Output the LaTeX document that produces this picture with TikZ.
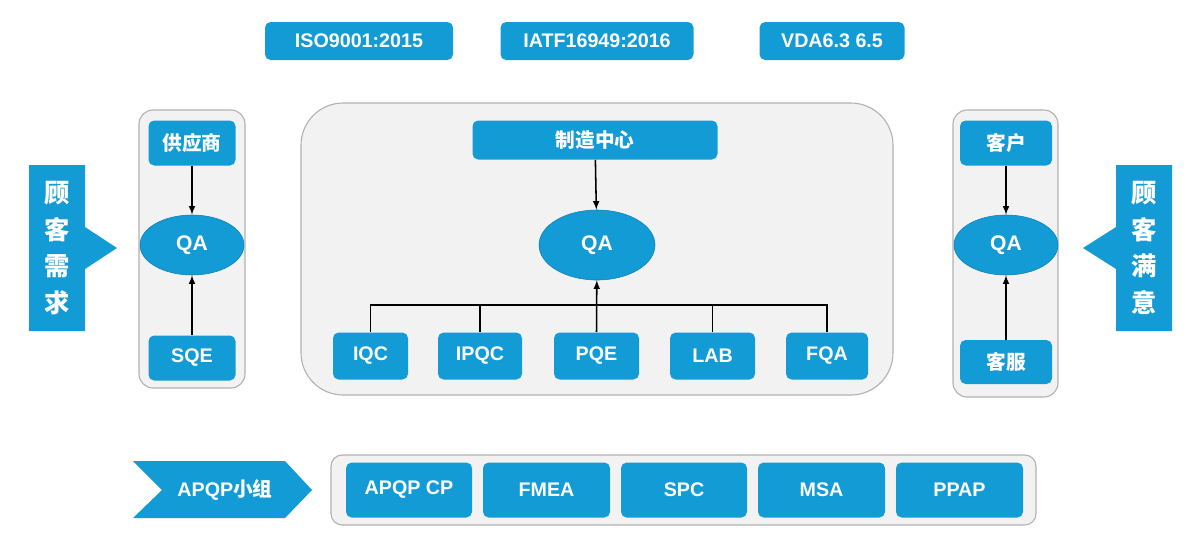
\documentclass[tikz,border=0pt]{standalone}
\usepackage{fontspec}
\setmainfont{Liberation Sans}
\newfontfamily\cjk{Noto Sans CJK SC}
\begin{document}
\begin{tikzpicture}[x=0.025cm,y=-0.025cm,
 bl/.style={fill=blue1,draw=none,rounded corners=4pt,text=white,font=\bfseries\fontsize{14}{16}\selectfont,inner sep=0pt},
 cj/.style={font=\bfseries\fontsize{14}{16}\selectfont\cjk},
 pan/.style={fill=gray!10,draw=gray!60,line width=0.8pt},
 qa/.style={ellipse,fill=blue1,draw=blue2,text=white,font=\bfseries\fontsize{15}{17}\selectfont,inner sep=0pt},
 ar/.style={-latex,line width=1.1pt}]
\definecolor{blue1}{HTML}{139BD6}
\definecolor{blue2}{HTML}{0E7FB5}
\useasboundingbox (0,0) rectangle (1200,555);
\usetikzlibrary{shapes.geometric}
% top
\node[bl,minimum width=188*0.025cm,minimum height=38*0.025cm] (iso) at (359,41) {ISO9001:2015};
\node[bl,minimum width=193*0.025cm,minimum height=38*0.025cm] (iatf) at (597,41) {IATF16949:2016};
\node[bl,minimum width=145*0.025cm,minimum height=38*0.025cm] (vda) at (832,41) {VDA6.3 6.5};
% panels
\draw[pan,rounded corners=10pt] (139,110) rectangle (245,388);
\draw[pan,rounded corners=30pt] (301,103) rectangle (893,395);
\draw[pan,rounded corners=10pt] (953,110) rectangle (1058,397);
\draw[pan,rounded corners=8pt] (331,455) rectangle (1036,525);
% left
\node[bl,cj,minimum width=87*0.025cm,minimum height=45*0.025cm] (sup) at (192,143) {供应商};
\node[qa,minimum width=104*0.025cm,minimum height=60*0.025cm] (qal) at (192,245) {QA};
\node[bl,minimum width=87*0.025cm,minimum height=45*0.025cm] (sqe) at (192,358) {SQE};
\draw[ar] (sup) -- (qal); \draw[ar] (sqe) -- (qal);
% center
\node[bl,cj,minimum width=245*0.025cm,minimum height=39*0.025cm] (mc) at (595,140) {制造中心};
\node[qa,minimum width=116*0.025cm,minimum height=70*0.025cm] (qac) at (597,245) {QA};
\draw[ar] (mc) -- (qac);
\foreach \n/\t/\a/\b in {iqc/IQC/333/408,ipqc/IPQC/438/522,pqe/PQE/554/639,lab/LAB/670/755,fqa/FQA/786/868}
 \node[bl,minimum width={(\b-\a)*0.025cm},minimum height=47*0.025cm] (\n) at ({(\a+\b)/2},356) {\t};
\coordinate (j) at (597,305);
\draw[line width=1.1pt] (iqc.north) |- (fqa.north |- j) -- (fqa.north);
\foreach \n in {ipqc,lab} \draw[line width=1.1pt] (\n.north) -- (\n.north |- j);
\draw[ar] (pqe.north) -- (qac);
% right
\node[bl,cj,minimum width=92*0.025cm,minimum height=45*0.025cm] (cus) at (1006,143) {客户};
\node[qa,minimum width=104*0.025cm,minimum height=60*0.025cm] (qar) at (1006,245) {QA};
\node[bl,cj,minimum width=92*0.025cm,minimum height=44*0.025cm] (svc) at (1006,362) {客服};
\draw[ar] (cus) -- (qar); \draw[ar] (svc) -- (qar);
% side arrows
\fill[blue1] (29,165) -- (85,165) -- (85,227) -- (117,248) -- (85,269) -- (85,331) -- (29,331) -- cycle;
\node[text=white,font=\bfseries\fontsize{18}{26}\selectfont\cjk,align=center] (cn) at (57,248) {顾\\客\\需\\求};
\fill[blue1] (1172,165) -- (1116,165) -- (1116,227) -- (1083,248) -- (1116,269) -- (1116,331) -- (1172,331) -- cycle;
\node[text=white,font=\bfseries\fontsize{18}{26}\selectfont\cjk,align=center] (cs) at (1144,248) {顾\\客\\满\\意};
% bottom
\fill[blue1] (133,461) -- (285,461) -- (312,490) -- (285,518) -- (133,518) -- (162,490) -- cycle;
\node[text=white,font=\bfseries\fontsize{14}{16}\selectfont] (apqp) at (225,490) {APQP{\cjk 小组}};
\foreach \n/\t/\a/\b in {cp/APQP CP/346/472,fm/FMEA/483/610,spc/SPC/621/747,msa/MSA/758/885,pp/PPAP/896/1023}
 \node[bl,minimum width={(\b-\a)*0.025cm},minimum height=55*0.025cm] (\n) at ({(\a+\b)/2},490) {\t};
\end{tikzpicture}
\end{document}
